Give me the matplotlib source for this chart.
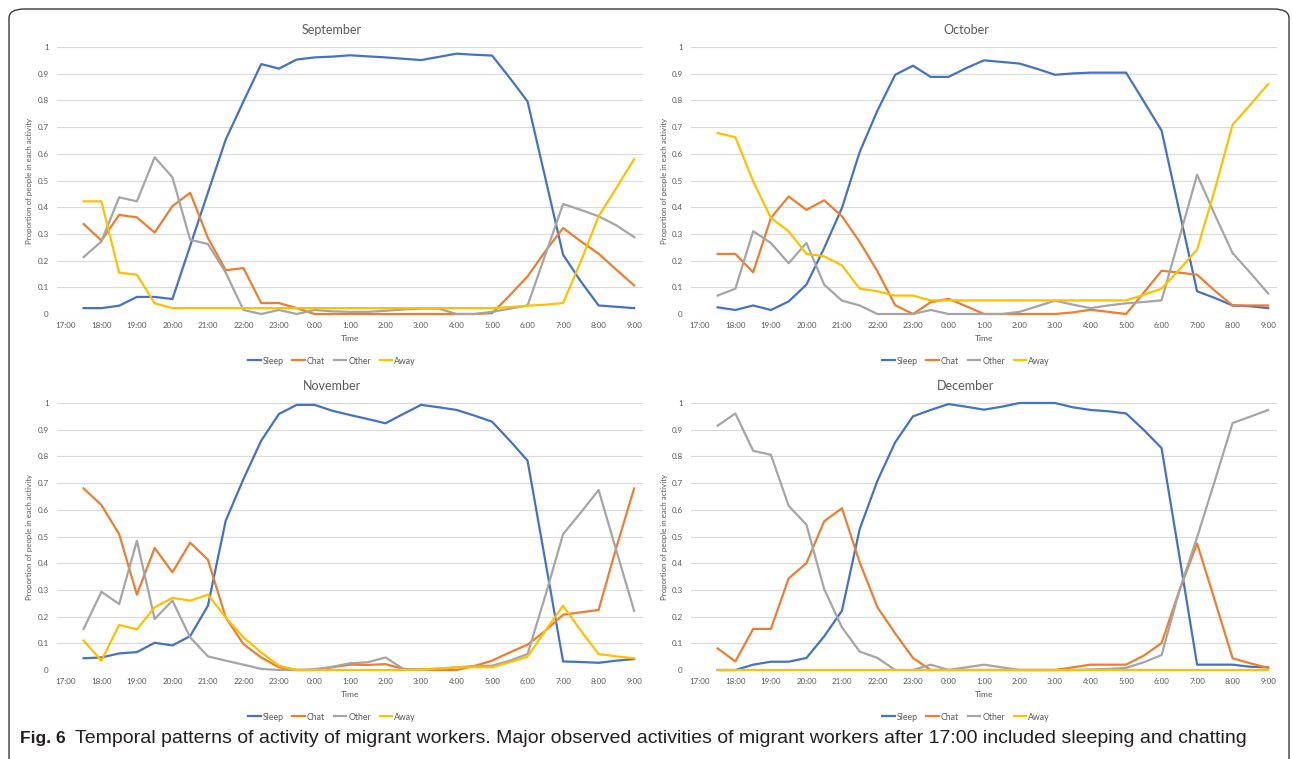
import numpy as np
import matplotlib
matplotlib.use("Agg")
import matplotlib.pyplot as plt
from matplotlib import font_manager
from matplotlib.patches import FancyBboxPatch

plt.rcParams['font.family'] = ['Lato', 'DejaVu Sans']

# ---- data (half-hour samples 17:30 .. 9:00) ----
hour_labels = ["17:00", "18:00", "19:00", "20:00", "21:00", "22:00", "23:00", "0:00",
               "1:00", "2:00", "3:00", "4:00", "5:00", "6:00", "7:00", "8:00", "9:00"]
activities = ["Sleep", "Chat", "Other", "Away"]
colors = ["#4472C4", "#ED7D31", "#A5A5A5", "#FFC000"]

sep_sleep = [0.022, 0.022, 0.031, 0.064, 0.064, 0.056, 0.255, 0.455, 0.653, 0.796, 0.936, 0.919,
             0.953, 0.961, 0.964, 0.969, 0.965, 0.961, 0.956, 0.951, 0.963, 0.975, 0.971, 0.968,
             0.884, 0.796, 0.509, 0.222, 0.122, 0.032, 0.027, 0.022]
sep_chat = [0.337, 0.275, 0.371, 0.362, 0.305, 0.404, 0.454, 0.285, 0.164, 0.172, 0.041, 0.041,
            0.022, 0, 0, 0, 0, 0, 0, 0, 0, 0, 0, 0.003,
            0.07, 0.141, 0.235, 0.322, 0.272, 0.226, 0.166, 0.107]
sep_other = [0.213, 0.272, 0.437, 0.422, 0.587, 0.512, 0.278, 0.262, 0.155, 0.015, 0, 0.015,
             0, 0.015, 0.01, 0.008, 0.008, 0.012, 0.017, 0.02, 0.02, 0, 0, 0.008,
             0.02, 0.032, 0.222, 0.412, 0.39, 0.366, 0.332, 0.288]
sep_away = [0.422, 0.422, 0.155, 0.147, 0.04, 0.022, 0.022, 0.022, 0.022, 0.022, 0.022, 0.022,
            0.022, 0.022, 0.022, 0.022, 0.022, 0.022, 0.022, 0.022, 0.022, 0.022, 0.022, 0.022,
            0.026, 0.031, 0.035, 0.041, 0.197, 0.366, 0.472, 0.58]

oct_sleep = [0.025, 0.015, 0.032, 0.015, 0.047, 0.11, 0.247, 0.397, 0.607, 0.762, 0.896, 0.93,
             0.888, 0.888, 0.921, 0.95, 0.944, 0.938, 0.918, 0.896, 0.901, 0.904, 0.904, 0.904,
             0.796, 0.687, 0.385, 0.085, 0.06, 0.032, 0.029, 0.022]
oct_chat = [0.225, 0.225, 0.156, 0.36, 0.44, 0.39, 0.426, 0.366, 0.27, 0.16, 0.033, 0,
            0.044, 0.057, 0.029, 0, 0, 0, 0, 0, 0.006, 0.016, 0.008, 0,
            0.08, 0.162, 0.155, 0.147, 0.087, 0.032, 0.032, 0.032]
oct_other = [0.069, 0.095, 0.31, 0.266, 0.19, 0.266, 0.11, 0.05, 0.032, 0, 0, 0,
             0.015, 0, 0, 0, 0, 0.008, 0.029, 0.05, 0.035, 0.022, 0.032, 0.04,
             0.045, 0.051, 0.285, 0.522, 0.372, 0.228, 0.154, 0.077]
oct_away = [0.678, 0.662, 0.497, 0.36, 0.31, 0.225, 0.216, 0.182, 0.095, 0.085, 0.069, 0.069,
            0.051, 0.051, 0.051, 0.051, 0.051, 0.051, 0.051, 0.051, 0.051, 0.051, 0.051, 0.051,
            0.072, 0.095, 0.166, 0.241, 0.466, 0.709, 0.784, 0.861]

nov_sleep = [0.044, 0.047, 0.062, 0.067, 0.102, 0.092, 0.127, 0.241, 0.559, 0.715, 0.859, 0.959,
             0.993, 0.993, 0.971, 0.955, 0.94, 0.924, 0.959, 0.993, 0.984, 0.974, 0.953, 0.93,
             0.859, 0.784, 0.408, 0.032, 0.03, 0.027, 0.035, 0.041]
nov_chat = [0.68, 0.618, 0.509, 0.282, 0.457, 0.366, 0.477, 0.413, 0.197, 0.097, 0.047, 0.01,
            0, 0, 0.01, 0.02, 0.019, 0.022, 0.004, 0.002, 0, 0, 0.015, 0.035,
            0.066, 0.095, 0.147, 0.207, 0.216, 0.225, 0.459, 0.68]
nov_other = [0.154, 0.293, 0.247, 0.484, 0.191, 0.26, 0.122, 0.051, 0.035, 0.02, 0.004, 0,
             0, 0.003, 0.012, 0.025, 0.029, 0.047, 0.004, 0.002, 0.005, 0.01, 0.015, 0.016,
             0.035, 0.06, 0.278, 0.509, 0.59, 0.674, 0.447, 0.222]
nov_away = [0.11, 0.035, 0.169, 0.152, 0.235, 0.27, 0.26, 0.282, 0.197, 0.122, 0.066, 0.016,
            0, 0, 0, 0, 0, 0, 0, 0.002, 0.006, 0.01, 0.01, 0.01,
            0.029, 0.05, 0.147, 0.241, 0.147, 0.06, 0.051, 0.044]

dec_sleep = [0, 0, 0.02, 0.031, 0.031, 0.045, 0.126, 0.222, 0.528, 0.709, 0.853, 0.95,
             0.974, 0.996, 0.986, 0.975, 0.986, 1.0, 1.0, 1.0, 0.984, 0.974, 0.969, 0.961,
             0.899, 0.831, 0.428, 0.02, 0.02, 0.02, 0.012, 0.01]
dec_chat = [0.081, 0.032, 0.154, 0.154, 0.343, 0.4, 0.557, 0.606, 0.403, 0.235, 0.137, 0.045,
            0, 0, 0, 0, 0, 0, 0, 0, 0.01, 0.02, 0.02, 0.02,
            0.054, 0.101, 0.297, 0.474, 0.26, 0.044, 0.025, 0.008]
dec_other = [0.915, 0.961, 0.821, 0.806, 0.615, 0.544, 0.303, 0.16, 0.069, 0.045, 0, 0,
             0.02, 0, 0.01, 0.02, 0.01, 0, 0, 0, 0, 0.002, 0.004, 0.008,
             0.029, 0.056, 0.297, 0.497, 0.709, 0.925, 0.949, 0.974]
dec_away = [0] * 32

months = {
    "September": [sep_sleep, sep_chat, sep_other, sep_away],
    "October": [oct_sleep, oct_chat, oct_other, oct_away],
    "November": [nov_sleep, nov_chat, nov_other, nov_away],
    "December": [dec_sleep, dec_chat, dec_other, dec_away],
}

caption_bold = "Fig. 6"
caption_text = ("Temporal patterns of activity of migrant workers. Major observed activities of "
                "migrant workers after 17:00 included sleeping and chatting")

# ---- layout (pixel boxes: left, right, top, bottom) ----
W, H = 1293, 759
TXT = "#595959"
fig = plt.figure(figsize=(W / 100, H / 100), dpi=100)

frame = FancyBboxPatch((9 / W, -0.05), 1280 / W, 1 + 0.05 - 9 / H,
                       boxstyle="round,pad=0,rounding_size=0.012",
                       transform=fig.transFigure, fill=False, ec="#3a3a3a", lw=1.0)
fig.patches.append(frame)

boxes = [(57, 643, 47, 314), (691, 1277, 47, 314), (57, 643, 403, 670), (691, 1277, 403, 670)]
title_x = [332, 966, 332, 966]

x = np.arange(1, 33)
for (name, series), (l, r, t, b), tx in zip(months.items(), boxes, title_x):
    ax = fig.add_axes([l / W, 1 - b / H, (r - l) / W, (b - t) / H])
    for vals, lab, c in zip(series, activities, colors):
        ax.plot(x, vals, color=c, lw=1.6, label=lab, clip_on=False, solid_joinstyle="round")
    ax.set_xlim(-0.5, 32.5)
    ax.set_ylim(0, 1)
    ax.set_xticks(np.arange(0, 33, 2))
    ax.set_xticklabels(hour_labels)
    yt = np.round(np.arange(0, 1.01, 0.1), 1)
    ax.set_yticks(yt)
    ax.set_yticklabels(["0" if v == 0 else ("1" if v == 1 else f"{v:.1f}") for v in yt])
    ax.tick_params(length=0, labelsize=5.8, labelcolor=TXT)
    ax.tick_params(axis="x", pad=6)
    ax.tick_params(axis="y", pad=6)
    ax.yaxis.grid(True, color="#D9D9D9", lw=0.8)
    ax.set_axisbelow(True)
    for s in ax.spines.values():
        s.set_visible(False)
    ax.set_xlabel("Time", fontsize=6.1, color=TXT, labelpad=4)
    fig.text((l - 27) / W, 1 - (t + b) / 2 / H, "Proportion of people in each activity",
             rotation=90, ha="center", va="center", fontsize=5.7, color=TXT)
    fig.text(tx / W, 1 - (t - 17) / H, name, ha="center", va="center", fontsize=9, color=TXT)
    ax.legend(loc="center", bbox_to_anchor=(tx / W, 1 - (b + 47) / H),
              bbox_transform=fig.transFigure, ncol=4, frameon=False, fontsize=6.3,
              handlelength=1.4, handletextpad=0.25, columnspacing=1.0, labelcolor=TXT)

# ---- caption ----
names = {f.name for f in font_manager.fontManager.ttflist}
cap_font = "Liberation Sans Narrow" if "Liberation Sans Narrow" in names else "Liberation Sans"
renderer = fig.canvas.get_renderer()
t1 = fig.text(20 / W, 1 - 743 / H, caption_bold, fontweight="bold", fontsize=12.5,
              family=cap_font, color="#231f20", va="baseline")
bb = t1.get_window_extent(renderer)
x0 = bb.x1 + 9
t2 = fig.text(x0 / W, 1 - 743 / H, caption_text, fontsize=12.5, family=cap_font,
              color="#231f20", va="baseline")
w = t2.get_window_extent(renderer).width
t2.set_fontsize(12.5 * (1242 - x0) / w)

fig.savefig("out.png", dpi=100)
